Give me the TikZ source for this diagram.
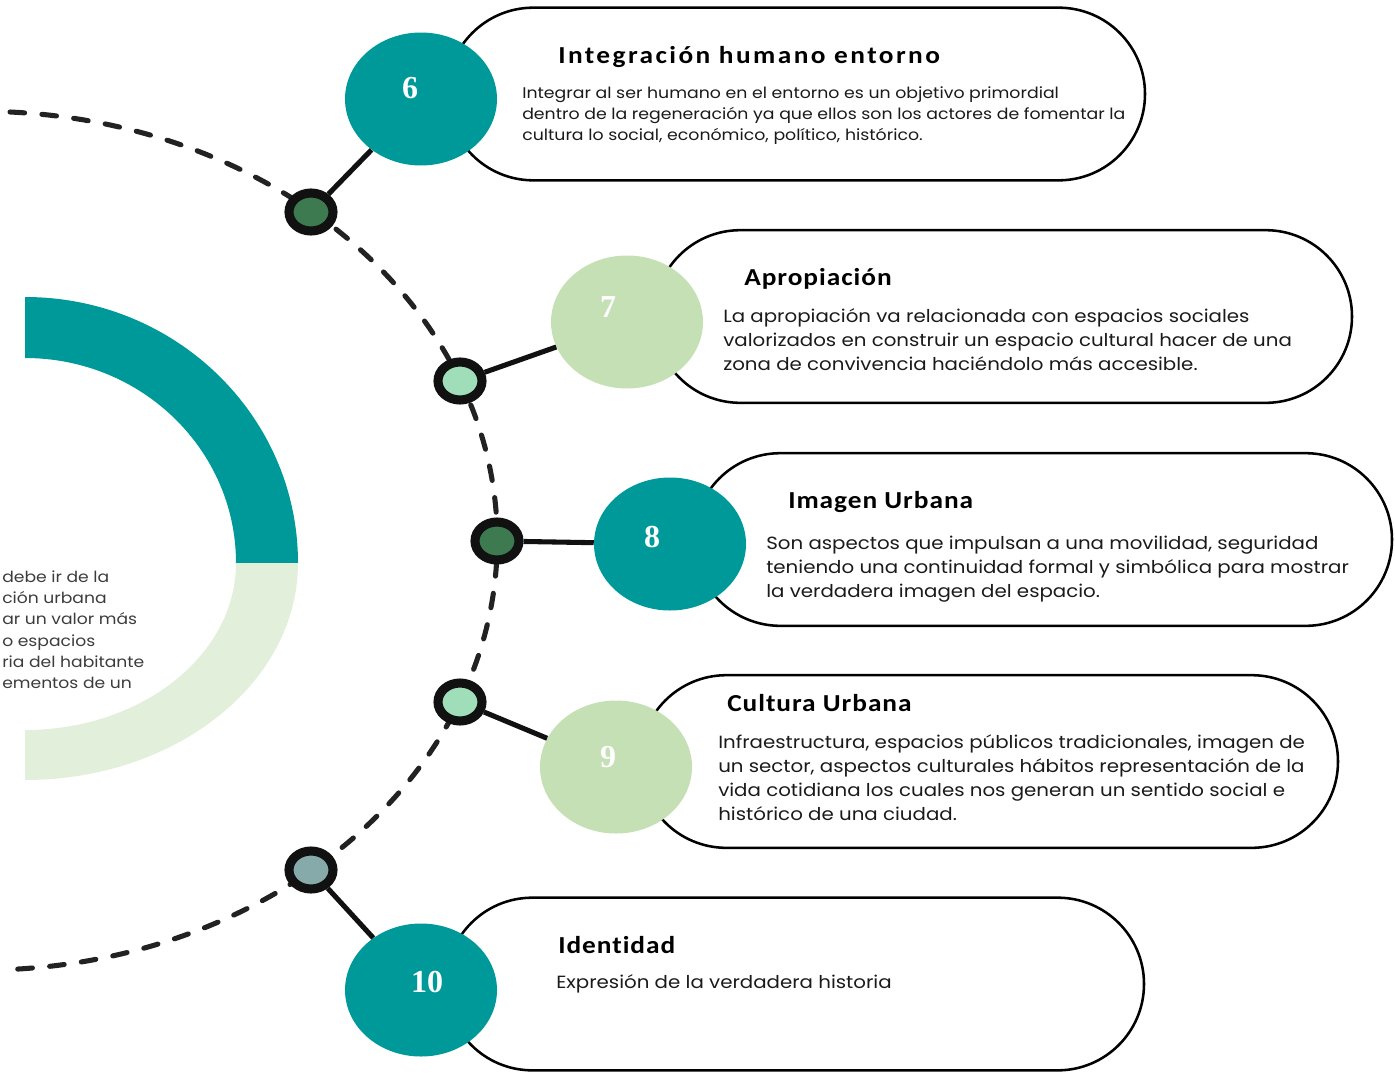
\documentclass[tikz,border=0pt]{standalone}
\usepackage{fontspec}
\usetikzlibrary{shapes.geometric,shapes.misc}
\setmainfont{Poppins}
\newfontfamily\bodyfont[FakeStretch=1.12]{Poppins}
\newfontfamily\titlefont[FakeStretch=1.12,LetterSpace=4,Ligatures={NoCommon}]{Carlito}
\newfontfamily\titlefontw[FakeStretch=1.12,LetterSpace=10,Ligatures={NoCommon}]{Carlito}
\newfontfamily\numfont{Liberation Serif}
\definecolor{tealc}{HTML}{009999}
\definecolor{lgreen}{HTML}{C5E0B4}
\definecolor{paleg}{HTML}{E2EFDA}
\definecolor{dkgreen}{HTML}{3D7A50}
\definecolor{mint}{HTML}{A0DDB9}
\definecolor{grayteal}{HTML}{86AAAA}
\definecolor{ringc}{HTML}{111111}
\definecolor{dashc}{HTML}{222222}
\definecolor{txt}{HTML}{1A1A1A}
\newcommand{\para}[1]{\begin{tabular}[t]{@{}l@{}}#1\end{tabular}}
\tikzset{
  pill/.style={rounded rectangle, draw=black, line width=1.9pt, minimum width=523.5pt, minimum height=129.5pt, inner sep=0},
  bigc/.style={ellipse, minimum width=114pt, minimum height=99.75pt, inner sep=0},
  dot/.style={ellipse, draw=ringc, line width=6.8pt, minimum width=33pt, minimum height=28.5pt, inner sep=0},
  conn/.style={draw=ringc, line width=3.8pt},
  ttl/.style={anchor=base west, inner sep=0, text=black, font=\titlefont\bfseries\fontsize{18.3}{20}\selectfont},
  ttlw/.style={ttl, font=\titlefontw\bfseries\fontsize{18.3}{20}\selectfont},
  bodya/.style={anchor=base west, inner sep=0, text=txt, font=\bodyfont\fontsize{11.6}{15.75}\selectfont},
  bodyb/.style={anchor=base west, inner sep=0, text=txt, font=\bodyfont\fontsize{13.25}{18.2}\selectfont},
  num/.style={inner sep=0, text=white, font=\numfont\bfseries\fontsize{24}{24}\selectfont},
}
\begin{document}
\begin{tikzpicture}[x=0.75pt,y=0.75pt]
\useasboundingbox (0,0) rectangle (1395,-1078);
% half ring
\fill[tealc] (25,-297) arc[start angle=90,end angle=0,x radius=204.75pt,y radius=199.5pt] -- (236,-563) arc[start angle=0,end angle=90,x radius=158.25pt,y radius=153.75pt] -- cycle;
\fill[paleg] (298,-563) arc[start angle=0,end angle=-90,x radius=204.75pt,y radius=162.75pt] -- (25,-730) arc[start angle=-90,end angle=0,x radius=158.25pt,y radius=125.25pt] -- cycle;
\node[anchor=base west, inner sep=0, text=txt!85, font=\bodyfont\fontsize{11.5}{16}\selectfont] (lt) at (2,-582) {\para{debe ir de la\\ción urbana\\ar un valor más\\o espacios\\ria del habitante\\ementos de un}};
% dashed arc
\draw[dashc, line width=3.8pt, line cap=round, dash pattern=on 11pt off 13pt] (10,-112) arc[start angle=86.7,end angle=-86.7,x radius=387.75pt,y radius=322.1pt];
% pills
\node[pill] (b6) at (796,-94) {};
\node[pill] (b7) at (1003,-316.5) {};
\node[pill] (b8) at (1043,-539.5) {};
\node[pill] (b9) at (989,-761.5) {};
\node[pill] (b10) at (795,-984) {};
% big circles
\node[bigc, fill=tealc] (c6) at (421,-99) {};
\node[bigc, fill=lgreen] (c7) at (627,-322) {};
\node[bigc, fill=tealc] (c8) at (670,-544) {};
\node[bigc, fill=lgreen] (c9) at (616,-767) {};
\node[bigc, fill=tealc] (c10) at (421,-990) {};
% dots
\node[dot, fill=dkgreen] (d6) at (311,-212) {};
\node[dot, fill=mint] (d7) at (460,-381) {};
\node[dot, fill=dkgreen] (d8) at (497,-541) {};
\node[dot, fill=mint] (d9) at (460,-702) {};
\node[dot, fill=grayteal] (d10) at (311,-870) {};
% connectors
\draw[conn] (d6) -- (c6);
\draw[conn] (d7) -- (c7);
\draw[conn] (d8) -- (c8);
\draw[conn] (d9) -- (c9);
\draw[conn] (d10) -- (c10);
% numbers
\node[num] (n6) at (410,-88) {6};
\node[num] (n7) at (608,-307) {7};
\node[num] (n8) at (652,-537) {8};
\node[num] (n9) at (608,-757) {9};
\node[num] (n10) at (427,-982) {10};
% titles
\node[ttlw] (t6) at (558,-63) {Integración humano entorno};
\node[ttl] (t7) at (744,-285) {Apropiación};
\node[ttl] (t8) at (788,-508) {Imagen Urbana};
\node[ttl] (t9) at (727,-711) {Cultura Urbana};
\node[ttl] (t10) at (558,-953) {Identidad};
% bodies
\node[bodya] (p6) at (522,-98) {\para{Integrar al ser humano en el entorno es un objetivo primordial\\dentro de la regeneración ya que ellos son los actores de fomentar la\\cultura lo social, económico, político, histórico.}};
\node[bodyb] (p7) at (723,-322) {\para{La apropiación va relacionada con espacios sociales\\valorizados en construir un espacio cultural hacer de una\\zona de convivencia haciéndolo más accesible.}};
\node[bodyb] (p8) at (766,-549) {\para{Son aspectos que impulsan a una movilidad, seguridad\\teniendo una continuidad formal y simbólica para mostrar\\la verdadera imagen del espacio.}};
\node[bodyb] (p9) at (718,-748) {\para{Infraestructura, espacios públicos tradicionales, imagen de\\un sector, aspectos culturales hábitos representación de la\\vida cotidiana los cuales nos generan un sentido social e\\histórico de una ciudad.}};
\node[bodyb] (p10) at (556,-988) {Expresión de la verdadera historia};
\end{tikzpicture}
\end{document}
